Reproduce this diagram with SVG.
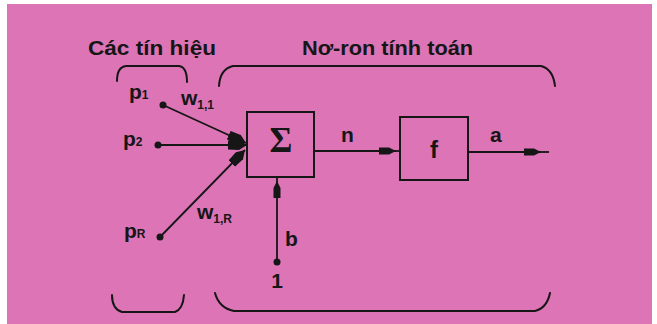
<svg xmlns="http://www.w3.org/2000/svg" width="657" height="324" viewBox="0 0 657 324">
<style>
  .ink{stroke:#161616;stroke-width:1.8;fill:none}
  .brace{stroke:#161616;stroke-width:2;fill:none;stroke-linecap:round}
  .box{stroke:#161616;stroke-width:2;fill:none}
  .dot{fill:#161616}
  .t{font-family:"Liberation Sans",Arial,sans-serif;font-weight:bold;fill:#161616}
  .title{font-size:20px}
  .lbl{font-size:21px}
  .sub{font-size:12px}
</style>
<defs>
  <marker id="ah" markerUnits="userSpaceOnUse" viewBox="0 0 18 10" markerWidth="18" markerHeight="10" refX="17" refY="5" orient="auto">
    <path d="M0,1.5 L10,1.5 L17,5 L10,8.5 L0,8.5 z" fill="#161616"/>
  </marker>
  <marker id="ahb" markerUnits="userSpaceOnUse" viewBox="0 0 20 12" markerWidth="20" markerHeight="12" refX="19" refY="6" orient="auto">
    <path d="M0,1.5 L11,1 L19,6 L11,11 L0,10.5 z" fill="#161616"/>
  </marker>
</defs>
<rect x="7" y="4" width="645" height="320" fill="#dc74b6"/>

<g id="titles">
  <text class="t title" x="88" y="55" textLength="128" lengthAdjust="spacingAndGlyphs">Các tín hiệu</text>
  <text class="t title" x="302" y="55" textLength="171" lengthAdjust="spacingAndGlyphs">Nơ-ron tính toán</text>
</g>

<g id="braces">
  <path class="brace" d="M117,81 Q117,67 126,66 L179,66 Q187,67 187,82"/>
  <path class="brace" d="M219,86 Q220,69 233,66 L541,66 Q553,69 555,86"/>
  <path class="brace" d="M112,295 Q112,309 122,312 L175,312 Q183,309 184,295"/>
  <path class="brace" d="M215,293 Q219,308 234,311 L535,311 Q547,308 550,293"/>
</g>

<g id="connectors">
  <line class="ink" x1="163" y1="105" x2="246" y2="143" marker-end="url(#ahb)"/>
  <line class="ink" x1="158" y1="145" x2="247" y2="145" marker-end="url(#ahb)"/>
  <line class="ink" x1="160" y1="237" x2="245" y2="150" marker-end="url(#ahb)"/>
  <line class="ink" x1="314" y1="151" x2="396" y2="151" marker-end="url(#ah)"/>
  <line class="ink" x1="396" y1="151" x2="400" y2="151"/>
  <line class="ink" x1="468" y1="152" x2="541" y2="152" marker-end="url(#ah)"/>
  <line class="ink" x1="541" y1="152" x2="549" y2="152"/>
  <line class="ink" x1="277" y1="262" x2="277" y2="181" marker-end="url(#ah)"/>
  <line class="ink" x1="277" y1="181" x2="277" y2="177"/>
</g>

<g id="p1">
  <circle class="dot" cx="163" cy="105" r="3.5"/>
  <text class="t lbl" x="129" y="99">p<tspan class="sub">1</tspan></text>
</g>
<g id="p2">
  <circle class="dot" cx="158" cy="145" r="3.5"/>
  <text class="t lbl" x="123" y="146">p<tspan class="sub">2</tspan></text>
</g>
<g id="pR">
  <circle class="dot" cx="160" cy="237" r="3.5"/>
  <text class="t lbl" x="124" y="238">p<tspan class="sub">R</tspan></text>
</g>
<g id="w11">
  <text class="t lbl" x="181" y="105">w<tspan class="sub" dy="4">1,1</tspan></text>
</g>
<g id="w1R">
  <text class="t lbl" x="197" y="219">w<tspan class="sub" dy="4">1,R</tspan></text>
</g>

<g id="sum">
  <rect class="box" x="247" y="112" width="67" height="65"/>
  <text x="281" y="152" text-anchor="middle" style="font-family:'Liberation Serif','Times New Roman',serif;font-size:35px;font-weight:bold;fill:#161616">Σ</text>
</g>

<g id="func">
  <rect class="box" x="400" y="117" width="68" height="63"/>
  <text class="t" x="434" y="158" text-anchor="middle" style="font-size:24px">f</text>
</g>

<g id="bias">
  <circle class="dot" cx="277" cy="262" r="3.5"/>
  <text class="t lbl" x="285" y="246">b</text>
  <text class="t lbl" x="277" y="288" text-anchor="middle">1</text>
</g>

<g id="labels">
  <text class="t lbl" x="341" y="142">n</text>
  <text class="t lbl" x="490" y="142">a</text>
</g>
</svg>
